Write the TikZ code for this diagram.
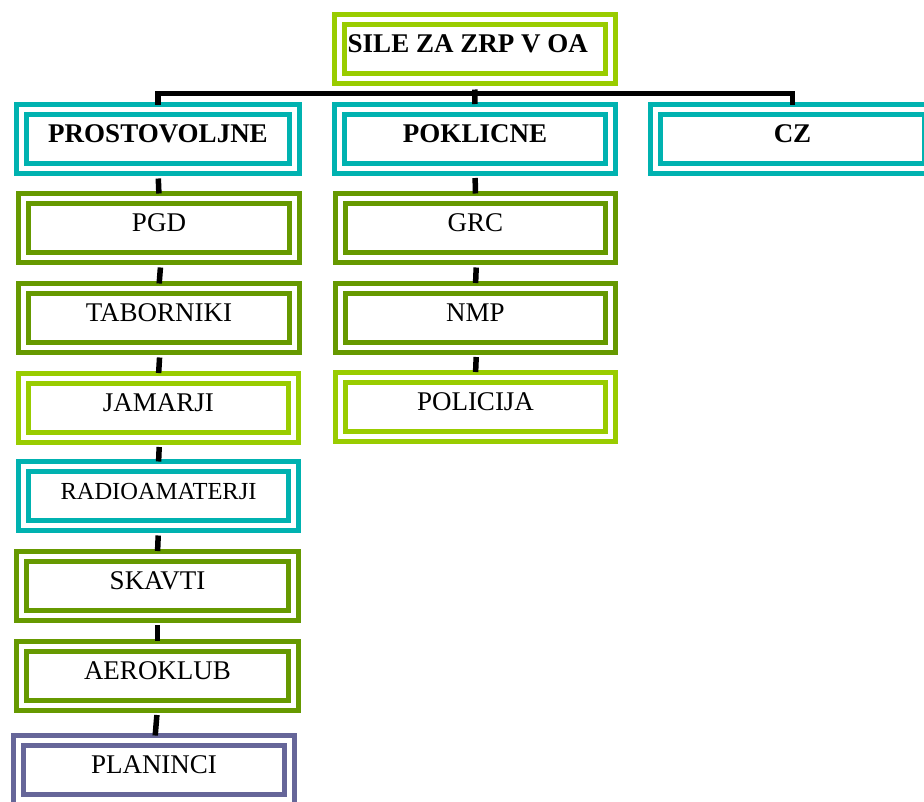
\documentclass[tikz,border=0pt]{standalone}
\usepackage{fontspec}
\setmainfont{Liberation Serif}
\definecolor{teal2}{HTML}{00B2B0}
\definecolor{lime2}{HTML}{99CC00}
\definecolor{olive2}{HTML}{669900}
\definecolor{purple2}{HTML}{666699}
\tikzset{
  box/.style={draw=#1, line width=5pt, double=white, double distance=5pt,
    minimum width=271pt, minimum height=59pt, inner sep=0pt,
    text height=13pt, text depth=6pt, align=center,
    font=\fontsize{27}{30}\selectfont},
  conn/.style={line width=5.5pt, black, shorten <=7.5pt, shorten >=2.5pt},
}
\begin{document}
\begin{tikzpicture}[x=1pt,y=-1pt]
\useasboundingbox (0,0) rectangle (924,801);
\clip (0,0) rectangle (924,801);
% top
\node[box=lime2, font=\fontsize{27}{30}\selectfont\bfseries] (top) at (474.75,48.5) {SILE ZA ZRP V OA\hspace*{14pt}};
% second row
\node[box=teal2, minimum width=273pt, font=\fontsize{27}{30}\selectfont\bfseries] (prost) at (158,139) {PROSTOVOLJNE};
\node[box=teal2, font=\fontsize{27}{30}\selectfont\bfseries] (pokl) at (475,138.5) {POKLICNE};
\node[box=teal2, minimum width=274pt, font=\fontsize{27}{30}\selectfont\bfseries] (cz) at (792.5,139) {CZ};
% left column
\node[box=olive2] (pgd) at (159,228) {PGD};
\node[box=olive2] (tab) at (159,318) {TABORNIKI};
\node[box=lime2, minimum width=270pt] (jam) at (158.5,407.5) {JAMARJI};
\node[box=teal2, minimum width=270pt, font=\fontsize{24.5}{28}\selectfont] (rad) at (158.5,496) {RADIOAMATERJI};
\node[box=olive2, minimum width=272pt] (ska) at (157.5,585.5) {SKAVTI};
\node[box=olive2, minimum width=272pt] (aero) at (157.5,675.5) {AEROKLUB};
\node[box=purple2] (plan) at (154,770) {PLANINCI};
% middle column
\node[box=olive2, minimum width=270pt] (grc) at (475.5,228) {GRC};
\node[box=olive2, minimum width=270pt] (nmp) at (475.5,317.5) {NMP};
\node[box=lime2, minimum width=270pt] (pol) at (475.5,406.5) {POLICIJA};
% connectors
\coordinate (bus) at (475,93.3);
\draw[line width=5.5pt, shorten <=2.5pt, shorten >=2.5pt] (prost.north) |- (bus) -| (cz.north);
\draw[line width=5.5pt, shorten <=9pt, shorten >=2.5pt] (top.south) -- (pokl.north);
\draw[conn] (prost.south) -- (pgd.north);
\draw[conn] ([xshift=2pt]pgd.south) -- (tab.north);
\draw[conn] ([xshift=1pt]tab.south) -- (jam.north);
\draw[conn] ([xshift=1pt]jam.south) -- (rad.north);
\draw[conn] (rad.south) -- (ska.north);
\draw[conn] (ska.south) -- (aero.north);
\draw[conn] (aero.south) -- ([xshift=1pt]plan.north);
\draw[conn] (pokl.south) -- (grc.north);
\draw[conn] ([xshift=1pt]grc.south) -- (nmp.north);
\draw[conn] ([xshift=1pt]nmp.south) -- (pol.north);
\end{tikzpicture}
\end{document}
